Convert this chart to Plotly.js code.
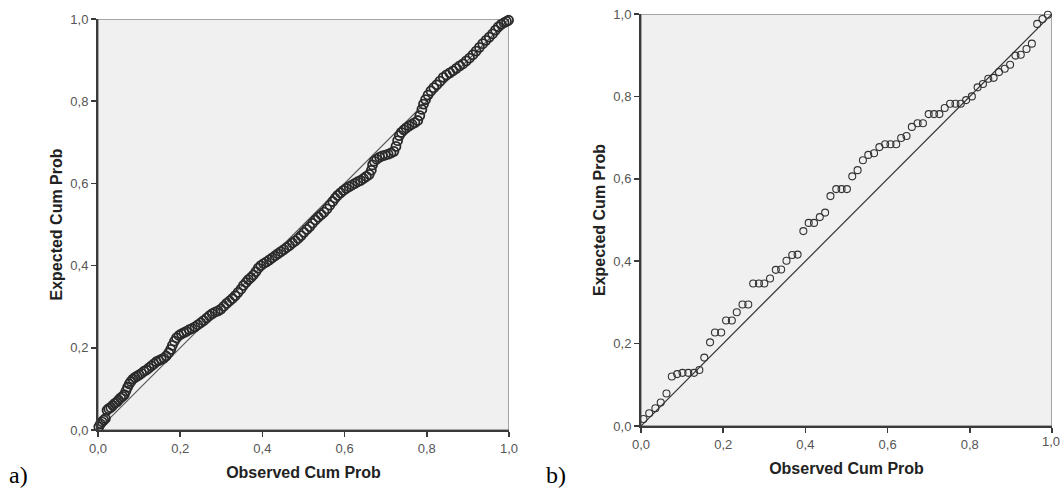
<!DOCTYPE html>
<html>
<head>
<meta charset="utf-8">
<script src="https://cdn.plot.ly/plotly-3.0.1.min.js"></script>
<style>
html,body{margin:0;padding:0;background:#fff;}
#chart{width:1060px;height:489px;}
</style>
</head>
<body>
<div id="chart"></div>
<script>
// ---- Data ----
const tickVals = [0, 0.2, 0.4, 0.6, 0.8, 1.0];
const tickText = ["0,0", "0,2", "0,4", "0,6", "0,8", "1,0"];
const xTitle = "Observed Cum Prob";
const yTitle = "Expected Cum Prob";
const panelLabels = ["a)", "b)"];
const refLineX = [0, 1];
const refLineY = [0, 1];

// Panel a) observed / expected cumulative probabilities
const aObserved = [0.002,0.006,0.010,0.014,0.018,0.022,0.026,0.031,0.036,0.041,0.046,0.050,0.055,0.060,0.064,0.068,0.072,0.076,0.080,0.085,0.090,0.095,0.100,0.106,0.112,0.118,0.124,0.130,0.136,0.142,0.148,0.154,0.160,0.166,0.172,0.177,0.181,0.186,0.191,0.197,0.203,0.209,0.215,0.222,0.229,0.236,0.243,0.250,0.257,0.264,0.271,0.278,0.285,0.292,0.299,0.306,0.313,0.320,0.327,0.334,0.341,0.348,0.354,0.360,0.366,0.372,0.378,0.384,0.390,0.396,0.403,0.410,0.417,0.424,0.431,0.438,0.445,0.452,0.459,0.466,0.473,0.480,0.487,0.494,0.501,0.508,0.515,0.522,0.529,0.536,0.543,0.550,0.557,0.564,0.571,0.577,0.583,0.590,0.597,0.604,0.611,0.618,0.625,0.632,0.639,0.646,0.653,0.660,0.665,0.668,0.672,0.678,0.685,0.692,0.699,0.706,0.713,0.720,0.725,0.729,0.733,0.738,0.744,0.750,0.757,0.764,0.771,0.778,0.783,0.788,0.792,0.797,0.803,0.810,0.817,0.824,0.832,0.840,0.848,0.856,0.864,0.872,0.880,0.888,0.896,0.904,0.912,0.920,0.928,0.936,0.944,0.952,0.960,0.967,0.974,0.981,0.988,0.994,0.999];
const aExpected = [0.008,0.015,0.020,0.024,0.028,0.048,0.052,0.055,0.060,0.065,0.068,0.073,0.078,0.082,0.086,0.095,0.104,0.112,0.118,0.124,0.128,0.131,0.134,0.138,0.143,0.146,0.151,0.156,0.161,0.166,0.169,0.172,0.175,0.180,0.188,0.196,0.206,0.216,0.224,0.230,0.234,0.237,0.240,0.244,0.247,0.251,0.256,0.261,0.266,0.272,0.278,0.283,0.287,0.290,0.294,0.301,0.308,0.314,0.320,0.327,0.335,0.343,0.352,0.359,0.366,0.371,0.377,0.385,0.394,0.400,0.405,0.409,0.414,0.419,0.424,0.429,0.434,0.439,0.444,0.449,0.455,0.460,0.466,0.473,0.481,0.488,0.495,0.503,0.511,0.518,0.524,0.530,0.538,0.547,0.556,0.564,0.571,0.577,0.583,0.588,0.592,0.596,0.600,0.604,0.607,0.612,0.617,0.622,0.632,0.645,0.654,0.659,0.664,0.667,0.669,0.671,0.674,0.678,0.690,0.704,0.716,0.724,0.730,0.735,0.740,0.744,0.748,0.753,0.765,0.780,0.793,0.804,0.815,0.825,0.833,0.840,0.849,0.858,0.864,0.869,0.874,0.880,0.886,0.891,0.898,0.905,0.913,0.922,0.931,0.940,0.948,0.956,0.964,0.973,0.981,0.987,0.991,0.994,0.997];

// Panel b) observed / expected cumulative probabilities
const bObserved = [0.006,0.020,0.035,0.048,0.062,0.075,0.088,0.101,0.115,0.129,0.142,0.154,0.168,0.180,0.195,0.207,0.221,0.233,0.247,0.261,0.273,0.287,0.300,0.314,0.328,0.341,0.354,0.368,0.381,0.395,0.408,0.421,0.435,0.448,0.461,0.475,0.488,0.501,0.514,0.527,0.540,0.553,0.567,0.580,0.594,0.607,0.621,0.633,0.646,0.659,0.673,0.686,0.700,0.713,0.726,0.739,0.752,0.765,0.778,0.791,0.805,0.819,0.832,0.845,0.858,0.871,0.885,0.898,0.911,0.924,0.938,0.951,0.964,0.977,0.990];
const bExpected = [0.017,0.031,0.043,0.057,0.079,0.120,0.126,0.129,0.129,0.129,0.136,0.166,0.203,0.227,0.227,0.256,0.256,0.276,0.295,0.295,0.346,0.346,0.346,0.358,0.379,0.380,0.401,0.415,0.416,0.473,0.493,0.493,0.507,0.518,0.558,0.575,0.575,0.575,0.606,0.621,0.645,0.658,0.662,0.677,0.684,0.684,0.684,0.699,0.704,0.726,0.735,0.735,0.757,0.757,0.757,0.772,0.782,0.782,0.782,0.791,0.800,0.822,0.830,0.843,0.845,0.859,0.867,0.877,0.899,0.901,0.915,0.928,0.976,0.988,0.998];

// ---- Styles ----
const W = 1060, H = 489;
const sans = "'Liberation Sans', Arial, sans-serif";
const tickFont = {family: sans, size: 13, color: "#555"};
const titleFont = {family: sans, size: 16, color: "#222", weight: "bold"};
const axisDark = "#3a3a3a";

function xAxis(domain, anchor) {
  return {
    domain: domain, anchor: anchor, range: [0, 1], fixedrange: true,
    showgrid: false, zeroline: false,
    showline: true, linecolor: axisDark, linewidth: 2,
    ticks: "outside", ticklen: 5, tickwidth: 1.5, tickcolor: axisDark,
    tickvals: tickVals, ticktext: tickText, tickfont: tickFont,
    title: {text: xTitle, font: titleFont, standoff: 12}
  };
}
function yAxis(domain, anchor) {
  return {
    domain: domain, anchor: anchor, range: [0, 1], fixedrange: true,
    showgrid: false, zeroline: false,
    showline: true, linecolor: axisDark, linewidth: 2,
    ticks: "outside", ticklen: 5, tickwidth: 1.5, tickcolor: axisDark,
    tickvals: tickVals, ticktext: tickText, tickfont: tickFont,
    title: {text: yTitle, font: titleFont, standoff: 4}
  };
}

const traces = [
  {x: refLineX, y: refLineY, xaxis: "x", yaxis: "y", mode: "lines", line: {color: "#555", width: 1.2}, hoverinfo: "skip", showlegend: false},
  {x: aObserved, y: aExpected, xaxis: "x", yaxis: "y", mode: "markers", cliponaxis: false,
   marker: {symbol: "circle-open", size: 9, line: {color: "#2a2a2a", width: 1.8}, color: "#2a2a2a"}, showlegend: false},
  {x: refLineX, y: refLineY, xaxis: "x2", yaxis: "y2", mode: "lines", line: {color: "#333", width: 1.2}, hoverinfo: "skip", showlegend: false},
  {x: bObserved, y: bExpected, xaxis: "x2", yaxis: "y2", mode: "markers", cliponaxis: false,
   marker: {symbol: "circle-open", size: 7, line: {color: "#333", width: 1.1}, color: "#333"}, showlegend: false}
];

// The right panel's last x tick label sits at the page edge, where Plotly drops it;
// draw it as an annotation at the same axis value instead.
const lastTick = tickVals.length - 1;

const layout = {
  width: W, height: H,
  margin: {l: 0, r: 0, t: 0, b: 0},
  paper_bgcolor: "#ffffff",
  plot_bgcolor: "#f0f0f0",
  showlegend: false,
  xaxis: xAxis([98 / W, 509 / W], "y"),
  yaxis: yAxis([(H - 430) / H, (H - 19) / H], "x"),
  xaxis2: xAxis([641 / W, 1052 / W], "y2"),
  yaxis2: yAxis([(H - 426) / H, (H - 14) / H], "x2"),
  shapes: [
    {type: "rect", xref: "x", yref: "y", x0: 0, x1: 1, y0: 0, y1: 1, line: {color: "#8c8c8c", width: 1.5}, layer: "below"},
    {type: "rect", xref: "x2", yref: "y2", x0: 0, x1: 1, y0: 0, y1: 1, line: {color: "#8c8c8c", width: 1.5}, layer: "below"}
  ],
  annotations: [
    {text: panelLabels[0], xref: "paper", yref: "paper", x: 7 / W, y: (H - 475) / H, xanchor: "left", yanchor: "middle",
     showarrow: false, font: {family: "'Liberation Serif', 'Times New Roman', serif", size: 24, color: "#000"}},
    {text: panelLabels[1], xref: "paper", yref: "paper", x: 544 / W, y: (H - 475) / H, xanchor: "left", yanchor: "middle",
     showarrow: false, font: {family: "'Liberation Serif', 'Times New Roman', serif", size: 24, color: "#000"}},
    {text: tickText[lastTick], xref: "x2", yref: "y2", x: tickVals[lastTick], y: 0, xanchor: "center", yanchor: "top",
     yshift: -6, xshift: -1, showarrow: false, font: tickFont}
  ]
};

Plotly.newPlot("chart", traces, layout, {displayModeBar: false, staticPlot: true});
</script>
</body>
</html>
